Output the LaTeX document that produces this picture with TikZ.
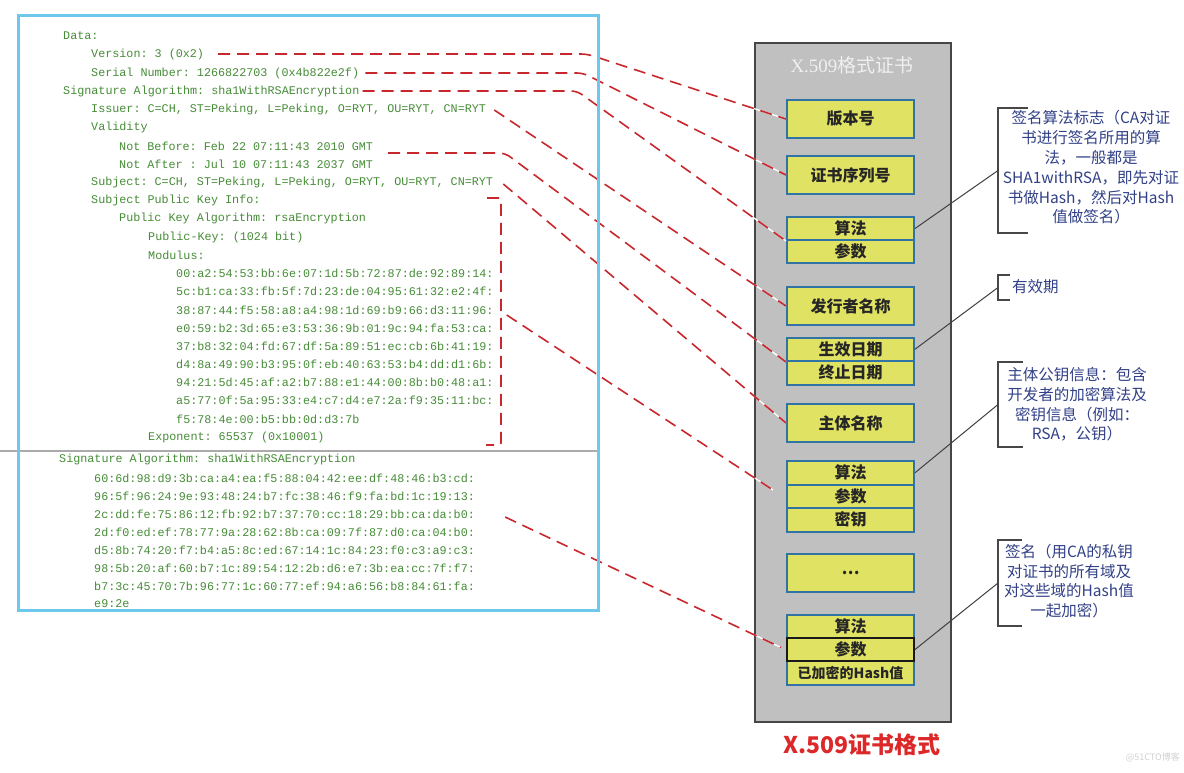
\documentclass[tikz,border=0pt]{standalone}
\usepackage{fontspec}
\setmainfont{Liberation Serif}
\newfontfamily\monof{Liberation Mono}
\newfontfamily\cjkf{Noto Sans CJK SC}
\definecolor{codegreen}{RGB}{70,140,55}
\definecolor{framecyan}{RGB}{110,200,235}
\definecolor{sepgray}{RGB}{170,170,170}
\definecolor{certgray}{RGB}{192,192,192}
\definecolor{certborder}{RGB}{70,70,70}
\definecolor{boxyellow}{RGB}{224,226,100}
\definecolor{boxblue}{RGB}{50,115,165}
\definecolor{dashred}{RGB}{200,40,45}
\definecolor{noteblue}{RGB}{50,65,135}
\definecolor{capred}{RGB}{220,40,40}
\frenchspacing
\begin{document}
\begin{tikzpicture}[x=1pt,y=-1pt,
  mono/.style={anchor=west, inner sep=0pt, text=codegreen, font=\monof\frenchspacing\fontsize{11.75}{14}\selectfont},
  ybox/.style={draw=boxblue, line width=2pt, fill=boxyellow, minimum width=127pt, inner sep=0pt,
    font=\cjkf\bfseries\fontsize{16}{19}\selectfont, text=black!85},
  conn/.style={draw=dashred, line width=1.6pt, dash pattern=on 12pt off 7pt, rounded corners=6pt,
    preaction={draw=white, solid, line width=1.3pt}},
  brk/.style={draw=black!72, line width=1.5pt},
  lead/.style={draw=black!75, line width=1pt},
  note/.style={inner sep=0pt, text=noteblue, align=center, font=\cjkf\fontsize{15.5}{19.8}\selectfont},
]
\useasboundingbox (0,0) rectangle (1184,772);
\fill[white] (0,0) rectangle (1184,772);

% certificate panel
\node[draw=certborder, line width=2pt, fill=certgray, minimum width=196pt, minimum height=679pt, inner sep=0pt] (cert) at (853,382.5) {};
\node[inner sep=0pt, text=white!94!black, font=\fontsize{19}{22}\selectfont] (ttl) at (852,65) {X.509\cjkf 格式证书};

% left listing
\node[mono] (data) at (63,36) {Data:};
\node[mono] (ver) at (91,54) {Version: 3 (0x2)};
\node[mono] (ser) at (91,73) {Serial Number: 1266822703 (0x4b822e2f)};
\node[mono] (sig) at (63,91) {Signature Algorithm: sha1WithRSAEncryption};
\node[mono] (isst) at (91,109) {Issuer: C=CH, ST=Peking, L=Peking, O=RYT, OU=RYT, CN=RYT};
\node[mono] (val) at (91,127) {Validity};
\node[mono] (nbt) at (119,146) {Not Before: Feb 22 07:11:43 2010 GMT};
\node[mono] (nat) at (119,164) {Not After : Jul 10 07:11:43 2037 GMT};
\node[mono] (subt) at (91,182) {Subject: C=CH, ST=Peking, L=Peking, O=RYT, OU=RYT, CN=RYT};
\node[mono] (spki) at (91,200) {Subject Public Key Info:};
\node[mono] (pka) at (119,218) {Public Key Algorithm: rsaEncryption};
\node[mono] (pk) at (148,237) {Public-Key: (1024 bit)};
\node[mono] (mod) at (148,255) {Modulus:};
\node[mono] (m1) at (176,273) {00:a2:54:53:bb:6e:07:1d:5b:72:87:de:92:89:14:};
\node[mono] (m2) at (176,291) {5c:b1:ca:33:fb:5f:7d:23:de:04:95:61:32:e2:4f:};
\node[mono] (m3) at (176,310) {38:87:44:f5:58:a8:a4:98:1d:69:b9:66:d3:11:96:};
\node[mono] (m4) at (176,328) {e0:59:b2:3d:65:e3:53:36:9b:01:9c:94:fa:53:ca:};
\node[mono] (m5) at (176,346) {37:b8:32:04:fd:67:df:5a:89:51:ec:cb:6b:41:19:};
\node[mono] (m6) at (176,364) {d4:8a:49:90:b3:95:0f:eb:40:63:53:b4:dd:d1:6b:};
\node[mono] (m7) at (176,382) {94:21:5d:45:af:a2:b7:88:e1:44:00:8b:b0:48:a1:};
\node[mono] (m8) at (176,400) {a5:77:0f:5a:95:33:e4:c7:d4:e7:2a:f9:35:11:bc:};
\node[mono] (m9) at (176,419) {f5:78:4e:00:b5:bb:0d:d3:7b};
\node[mono] (expo) at (148,437) {Exponent: 65537 (0x10001)};

\node[mono] (sig2) at (59,459) {Signature Algorithm: sha1WithRSAEncryption};
\node[mono] (s1) at (94,478) {60:6d:98:d9:3b:ca:a4:ea:f5:88:04:42:ee:df:48:46:b3:cd:};
\node[mono] (s2) at (94,496) {96:5f:96:24:9e:93:48:24:b7:fc:38:46:f9:fa:bd:1c:19:13:};
\node[mono] (s3) at (94,514) {2c:dd:fe:75:86:12:fb:92:b7:37:70:cc:18:29:bb:ca:da:b0:};
\node[mono] (s4) at (94,532) {2d:f0:ed:ef:78:77:9a:28:62:8b:ca:09:7f:87:d0:ca:04:b0:};
\node[mono] (s5) at (94,550) {d5:8b:74:20:f7:b4:a5:8c:ed:67:14:1c:84:23:f0:c3:a9:c3:};
\node[mono] (s6) at (94,568) {98:5b:20:af:60:b7:1c:89:54:12:2b:d6:e7:3b:ea:cc:7f:f7:};
\node[mono] (s7) at (94,586) {b7:3c:45:70:7b:96:77:1c:60:77:ef:94:a6:56:b8:84:61:fa:};
\node[mono] (s8) at (94,604) {e9:2e};

\draw[sepgray, line width=1.5pt] (0,451) -- (598,451);

% yellow fields
\node[ybox, minimum height=38pt] (bVer) at (850.5,119) {版本号};
\node[ybox, minimum height=38pt] (bSer) at (850.5,175) {证书序列号};
\node[ybox, minimum height=23pt] (bA1) at (850.5,228.5) {算法};
\node[ybox, minimum height=23pt] (bP1) at (850.5,251.5) {参数};
\node[ybox, minimum height=38pt] (bIss) at (850.5,306) {发行者名称};
\node[ybox, minimum height=23.5pt] (bNb) at (850.5,349.25) {生效日期};
\node[ybox, minimum height=23.5pt] (bNa) at (850.5,372.75) {终止日期};
\node[ybox, minimum height=38pt] (bSub) at (850.5,423) {主体名称};
\node[ybox, minimum height=23.5pt] (bA2) at (850.5,472.75) {算法};
\node[ybox, minimum height=23.5pt] (bP2) at (850.5,496.25) {参数};
\node[ybox, minimum height=23.5pt] (bK2) at (850.5,519.75) {密钥};
\node[ybox, minimum height=38pt] (bDots) at (850.5,573) {…};
\node[ybox, minimum height=23pt] (bA3) at (850.5,626.5) {算法};
\node[ybox, minimum height=24pt, font=\cjkf\bfseries\fontsize{14}{17}\selectfont] (bHv) at (850.5,673) {已加密的Hash值};
\node[ybox, minimum height=23pt, draw=black!90] (bP3) at (850.5,649.5) {参数};

% red dashed connectors
\coordinate (modEnd) at (773,490);
\draw[conn] ([xshift=14pt]ver.east) -- (587,54) -- (bVer.west);
\draw[conn] ([xshift=6pt]ser.east) -- (583,73) -- (bSer.west);
\draw[conn] ([xshift=3pt]sig.east) -- (577,91) -- (bA1.south west);
\draw[conn] ([xshift=8pt,yshift=-1pt]isst.east) -- (bIss.west);
\draw[conn] ([xshift=15pt,yshift=-7pt]nbt.east) -- (505,153) -- (bNb.south west);
\draw[conn] ([xshift=10pt,yshift=-2pt]subt.east) -- (bSub.west);
\draw[conn, rounded corners=2pt] (487,198) -- (501,198) -- (501,445) -- (486,445);
\draw[conn] ([xshift=13pt,yshift=-5pt]m3.east) -- (modEnd);
\draw[conn] ([xshift=30pt,yshift=-3pt]s3.east) -- ([xshift=-5pt,yshift=2pt]bP3.west);

% left frame
\draw[framecyan, line width=3pt] (18,15) rectangle (598,610);

% annotations
\draw[brk] (1028,108) -- (998,108) -- (998,233) -- (1028,233);
\coordinate (k1) at (998,170.5);
\node[note] (n1) at (1091,167.5) {签名算法标志（CA对证\\书进行签名所用的算\\法，一般都是\\SHA1withRSA，即先对证\\书做Hash，然后对Hash\\值做签名）};
\draw[lead] (bA1.east) -- (k1);

\draw[brk] (1010,275) -- (998,275) -- (998,300) -- (1010,300);
\coordinate (k2) at (998,287.5);
\node[note, anchor=west] (n2) at (1012,287) {有效期};
\draw[lead] (bNb.east) -- (k2);

\draw[brk] (1023,362) -- (998,362) -- (998,447) -- (1023,447);
\coordinate (k3) at (998,404.5);
\node[note] (n3) at (1077,404.5) {主体公钥信息：包含\\开发者的加密算法及\\密钥信息（例如：\\RSA，公钥）};
\draw[lead] (bA2.east) -- (k3);

\draw[brk] (1022,540) -- (998,540) -- (998,626) -- (1022,626);
\coordinate (k4) at (998,583);
\node[note] (n4) at (1069,581) {签名（用CA的私钥\\对证书的所有域及\\对这些域的Hash值\\一起加密）};
\draw[lead] (bP3.east) -- (k4);

% caption
\node[inner sep=0pt, text=capred, font=\cjkf\bfseries\fontsize{23}{26}\selectfont] (cap) at (862,745) {X.509证书格式};
\node[inner sep=0pt, anchor=east, text=black!18, font=\cjkf\fontsize{9}{10}\selectfont] (wm) at (1180,757) {@51CTO博客};
\end{tikzpicture}
\end{document}
